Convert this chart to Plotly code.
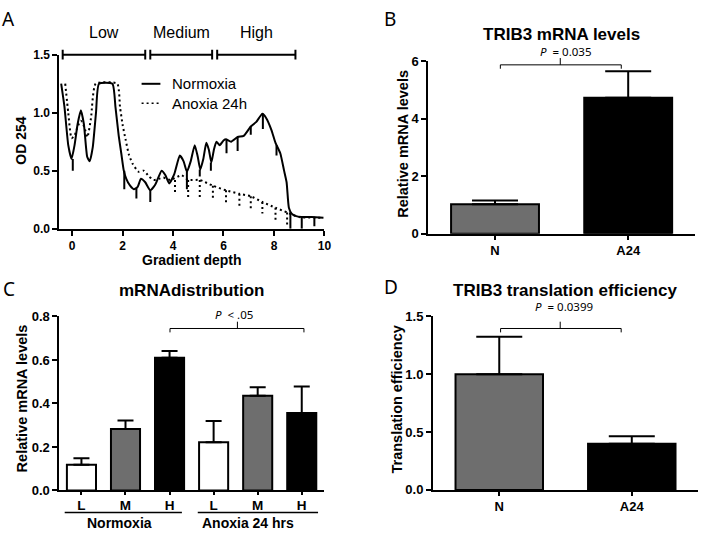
import plotly.graph_objects as go

W, H = 710, 539

# ---- panel A: OD254 polysome profiles ----
norm_x = [-0.43, -0.3, -0.15, -0.02, 0.1, 0.22, 0.35, 0.47, 0.6, 0.7, 0.82, 0.95, 1.07, 1.6, 1.72,
          1.85, 1.95, 2.05, 2.15, 2.3, 2.45, 2.6, 2.73, 2.9, 3.1, 3.3, 3.55, 3.7, 3.85, 4.05, 4.27,
          4.42, 4.55, 4.7, 4.86, 4.98, 5.08, 5.2, 5.32, 5.42, 5.52, 5.62, 5.72, 5.85, 6.0, 6.1, 6.3,
          6.56, 6.8, 7.08, 7.3, 7.54, 7.7, 7.9, 8.06, 8.25, 8.4, 8.5, 8.59, 8.7, 8.85, 9.1, 9.5, 9.96]
norm_y = [1.25, 1.05, 0.72, 0.6, 0.72, 0.9, 1.02, 0.9, 0.62, 0.58, 0.7, 1.0, 1.25, 1.25, 1.05,
          0.8, 0.65, 0.5, 0.43, 0.37, 0.34, 0.36, 0.43, 0.4, 0.33, 0.38, 0.5, 0.46, 0.39, 0.47, 0.63,
          0.58, 0.49, 0.58, 0.72, 0.62, 0.51, 0.6, 0.74, 0.68, 0.57, 0.68, 0.75, 0.72, 0.76, 0.77, 0.75,
          0.79, 0.8, 0.88, 0.92, 0.99, 0.95, 0.85, 0.74, 0.65, 0.5, 0.4, 0.18, 0.13, 0.11, 0.1, 0.1, 0.095]
anox_x = [-0.27, -0.15, -0.02, 0.1, 0.22, 0.35, 0.48, 0.61, 0.75, 0.94, 1.79, 1.9, 2.0, 2.12, 2.25,
          2.4, 2.64, 2.84, 3.05, 3.23, 3.45, 3.62, 3.9, 4.34, 4.6, 5.06, 5.58, 6.1, 6.63, 7.08, 7.54,
          8.06, 8.52, 9.0, 9.96]
anox_y = [1.25, 1.0, 0.78, 0.8, 0.88, 0.93, 0.88, 0.79, 0.95, 1.25, 1.25, 1.05, 0.9, 0.77, 0.64,
          0.56, 0.49, 0.5, 0.45, 0.42, 0.43, 0.44, 0.42, 0.46, 0.42, 0.42, 0.37, 0.33, 0.3, 0.28, 0.23,
          0.18, 0.14, 0.1, 0.095]
# fraction-collector spikes
ns_x = [0.03, 2.07, 2.55, 3.1, 4.55, 5.06, 5.5, 6.12, 6.56, 7.08, 7.56, 8.1, 8.65, 9.1, 9.6]
ns_top = [0.6, 0.5, 0.35, 0.33, 0.49, 0.51, 0.57, 0.77, 0.79, 0.88, 0.99, 0.72, 0.14, 0.1, 0.1]
ns_bot = [0.5, 0.34, 0.26, 0.23, 0.34, 0.45, 0.5, 0.65, 0.67, 0.81, 0.86, 0.63, 0.0, 0.0, 0.02]
as_x = [4.08, 4.6, 5.06, 5.58, 6.1, 6.63, 7.08, 7.54, 8.06, 8.52]
as_top = [0.42, 0.42, 0.42, 0.37, 0.33, 0.3, 0.28, 0.23, 0.18, 0.14]
as_bot = [0.29, 0.27, 0.26, 0.25, 0.22, 0.19, 0.16, 0.13, 0.07, 0.02]
fractions = [("Low", -0.37, 2.9), ("Medium", 3.1, 5.55), ("High", 5.75, 8.85)]

# ---- panel B ----
b_cats = ["N", "A24"]
b_vals = [1.03, 4.73]
b_err = [0.13, 0.92]

# ---- panel C ----
c_labels = ["L", "M", "H", "L", "M", "H"]
c_vals = [0.118, 0.283, 0.61, 0.222, 0.435, 0.356]
c_err = [0.03, 0.039, 0.031, 0.097, 0.04, 0.122]

# ---- panel D ----
d_cats = ["N", "A24"]
d_vals = [1.0, 0.4]
d_err = [0.325, 0.063]

GRAY = "#6e6e6e"
FONT = "Liberation Sans, Arial, sans-serif"
DOTS = "2px,3px"


def px(p):
    return p / W


def py(p):
    return 1 - p / H


def spikes(xs, tops, bots):
    xx, yy = [], []
    for x, t, b in zip(xs, tops, bots):
        xx += [x, x, None]
        yy += [t, b, None]
    return xx, yy


fig = go.Figure()

fig.add_trace(go.Scatter(x=norm_x, y=norm_y, mode="lines",
                         line=dict(color="black", width=2, shape="spline", smoothing=0.5),
                         xaxis="x", yaxis="y", showlegend=False))
fig.add_trace(go.Scatter(x=anox_x, y=anox_y, mode="lines",
                         line=dict(color="black", width=2, dash=DOTS, shape="spline", smoothing=0.5),
                         xaxis="x", yaxis="y", showlegend=False))
sx, sy = spikes(ns_x, ns_top, ns_bot)
fig.add_trace(go.Scatter(x=sx, y=sy, mode="lines", line=dict(color="black", width=2),
                         xaxis="x", yaxis="y", showlegend=False))
sx, sy = spikes(as_x, as_top, as_bot)
fig.add_trace(go.Scatter(x=sx, y=sy, mode="lines", line=dict(color="black", width=2, dash=DOTS),
                         xaxis="x", yaxis="y", showlegend=False))


def err(vals, e, w):
    return dict(type="data", array=e, arrayminus=[0] * len(vals), symmetric=False,
                color="black", thickness=2, width=w)


fig.add_trace(go.Bar(x=[0, 1], y=b_vals, width=0.66, marker=dict(color=[GRAY, "black"],
                     line=dict(color="black", width=2)), error_y=err(b_vals, b_err, 23),
                     xaxis="x2", yaxis="y2", showlegend=False))
fig.add_trace(go.Bar(x=list(range(6)), y=c_vals, width=0.66,
                     marker=dict(color=["white", GRAY, "black"] * 2, line=dict(color="black", width=2)),
                     error_y=err(c_vals, c_err, 8), xaxis="x3", yaxis="y3", showlegend=False))
fig.add_trace(go.Bar(x=[0, 1], y=d_vals, width=0.66, marker=dict(color=[GRAY, "black"],
                     line=dict(color="black", width=2)), error_y=err(d_vals, d_err, 23),
                     xaxis="x4", yaxis="y4", showlegend=False))

ax = dict(showline=True, linewidth=2, linecolor="black", ticks="outside", ticklen=5, tickwidth=2,
          tickcolor="black", showgrid=False, zeroline=False, fixedrange=True,
          tickfont=dict(family=FONT, size=13, color="black", weight="bold"))

fig.update_layout(
    width=W, height=H, margin=dict(l=0, r=0, t=0, b=0),
    paper_bgcolor="white", plot_bgcolor="white", showlegend=False,
    font=dict(family=FONT, color="black"),
    xaxis=dict(ax, domain=[px(60), px(327.7)], range=[-0.5, 10], tickvals=[0, 2, 4, 6, 8, 10],
               anchor="y", tickfont=dict(family=FONT, size=12, weight="bold")),
    yaxis=dict(ax, domain=[py(228), py(49)], range=[0, 1.5], tickvals=[0, 0.5, 1.0, 1.5],
               tickformat=".1f", anchor="x", tickfont=dict(family=FONT, size=12, weight="bold")),
    xaxis2=dict(ax, domain=[px(432.7), px(701.7)], range=[-0.5, 1.5], tickvals=[0, 1],
                ticktext=b_cats, ticklen=4, anchor="y2"),
    yaxis2=dict(ax, domain=[py(233.3), py(55.7)], range=[0, 6], tickvals=[0, 2, 4, 6], anchor="x2"),
    xaxis3=dict(ax, domain=[px(60), px(327)], range=[-0.5, 5.5], tickvals=list(range(6)),
                ticktext=c_labels, ticklen=3, ticklabelstandoff=-2, anchor="y3",
                tickfont=dict(family=FONT, size=13.5, weight="bold")),
    yaxis3=dict(ax, domain=[py(497.3), py(318.3)], range=[0, 0.8], tickvals=[0, 0.2, 0.4, 0.6, 0.8],
                tickformat=".1f", anchor="x3"),
    xaxis4=dict(ax, domain=[px(437.3), px(705)], range=[-0.5, 1.5], tickvals=[0, 1],
                ticktext=d_cats, ticklen=4, anchor="y4"),
    yaxis4=dict(ax, domain=[py(496.7), py(318.3)], range=[0, 1.5], tickvals=[0, 0.5, 1.0, 1.5],
                tickformat=".1f", anchor="x4"),
)

shapes = []
ann = []


def text(x, y, s, size, bold=False, xref="paper", angle=0, family=FONT, xanchor="center"):
    ann.append(dict(x=x, y=y, xref=xref, yref="paper", text=s, showarrow=False, textangle=angle,
                    xanchor=xanchor, yanchor="middle", borderpad=0,
                    font=dict(family=family, size=size, color="black", weight="bold" if bold else "normal")))


# panel letters
for s, x, y in [("A", 9, 12), ("B", 394, 12), ("C", 9, 290), ("D", 395, 288.5)]:
    text(px(x), py(y), s, 19, family="Noto Sans, sans-serif")

# panel A decorations
yl, yt, yb = py(49), py(44), py(54)
for name, a, b in fractions:
    shapes.append(dict(type="path", xref="x", yref="paper",
                       path=f"M {a},{yt} L {a},{yb} M {a},{yl} L {b},{yl} M {b},{yt} L {b},{yb}",
                       line=dict(color="black", width=2)))
    text((a + b) / 2, py(26.7), name, 16, xref="x")
shapes.append(dict(type="line", xref="paper", yref="paper", x0=px(143), x1=px(162), y0=py(79), y1=py(79),
                   line=dict(color="black", width=2)))
shapes.append(dict(type="line", xref="paper", yref="paper", x0=px(143), x1=px(162), y0=py(99), y1=py(99),
                   line=dict(color="black", width=1.5, dash=DOTS)))
text(px(172.7), py(79), "Normoxia", 15, xanchor="left")
text(px(172.7), py(99), "Anoxia 24h", 15, xanchor="left")
text(px(21.7), py(137), "OD 254", 14, bold=True, angle=-90)
text(px(194), py(260), "Gradient depth", 14, bold=True)


# significance brackets
def bracket(xref, a, b, m, yline, label, ytext, xtext):
    ylp, ybp, ytp = py(yline), py(yline + 4), py(yline - 7)
    shapes.append(dict(type="path", xref=xref, yref="paper",
                       path=f"M {a},{ybp} L {a},{ylp} L {b},{ylp} L {b},{ybp} M {m},{ylp} L {m},{ytp}",
                       line=dict(color="black", width=1)))
    text(xtext, py(ytext), label, 11.5, xref=xref, family="Noto Sans, sans-serif")


bracket("x2", 0.04, 0.948, 0.49, 59.5, "<i>P</i>  = 0.035", 46, 0.53)
bracket("x3", 2.01, 5.05, 3.54, 330.7, "<i>P</i>  < .05", 316, 3.46)
bracket("x4", 0.01, 0.92, 0.46, 330.7, "<i>P</i>  = 0.0399", 308.3, 0.49)

# titles
text(px(566.7), py(28.3), "TRIB3 mRNA levels", 17, bold=True)
text(px(193.3), py(291.7), "mRNAdistribution", 17, bold=True)
text(px(570.7), py(291.7), "TRIB3 translation efficiency", 17, bold=True)

# y titles
text(px(406.7), py(141), "Relative mRNA levels", 14.5, bold=True, angle=-90)
text(px(22.3), py(402.5), "Relative mRNA levels", 14.5, bold=True, angle=-90)
text(px(400.7), py(404), "Translation efficiency", 14.5, bold=True, angle=-90)

# group labels in C
for a, b, s, xc in [(-0.38, 2.28, "Normoxia", 0.87), (2.64, 5.37, "Anoxia 24 hrs", 3.79)]:
    shapes.append(dict(type="line", xref="x3", yref="paper", x0=a, x1=b, y0=py(520), y1=py(520),
                       line=dict(color="black", width=1.5)))
    text(xc, py(530.5), s, 14, bold=True, xref="x3")

fig.update_layout(shapes=shapes, annotations=ann)
fig.write_html("out.html", config={"displayModeBar": False},
               post_script="document.body.style.margin='0';")
